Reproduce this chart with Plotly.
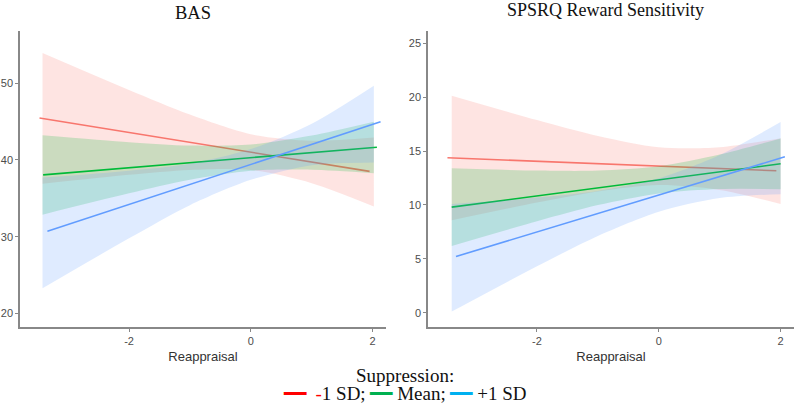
import plotly.graph_objects as go

# ---------------- data ----------------
GROUPS = ["-1 SD", "Mean", "+1 SD"]
LINE_COLORS = ["#F8766D", "#00BA38", "#619CFF"]
FILL_COLORS = ["rgba(248,118,109,0.2)", "rgba(0,186,56,0.2)", "rgba(97,156,255,0.2)"]

# BAS panel
bas_line_x = [[-3.47, 1.95], [-3.41, 2.07], [-3.34, 2.13]]
bas_line_y = [[45.45, 38.5], [38.05, 41.65], [30.7, 44.95]]
bas_band_x = [-3.42, -2, -1, 0, 1, 2.02]
bas_upper = [
    [53.90, 49.09, 45.89, 43.33, 42.49, 42.92],
    [43.21, 42.30, 41.86, 42.00, 43.17, 44.96],
    [37.69, 38.59, 39.50, 41.40, 44.71, 49.66],
]
bas_lower = [
    [36.88, 38.05, 38.69, 38.69, 36.97, 33.94],
    [32.87, 35.64, 37.40, 38.58, 38.71, 38.26],
    [23.29, 29.79, 34.10, 37.40, 39.31, 39.66],
]

# SPSRQ panel
sps_line_x = [[-3.47, 1.93], [-3.40, 2.0], [-3.33, 2.07]]
sps_line_y = [[14.38, 13.17], [9.80, 13.82], [5.22, 14.47]]
sps_band_x = [-3.40, -2, -1, 0, 1, 2.0]
sps_upper = [
    [20.14, 17.88, 16.40, 15.35, 15.36, 16.20],
    [13.40, 13.19, 13.19, 13.59, 14.68, 16.17],
    [10.09, 10.69, 11.30, 12.47, 14.64, 17.70],
]
sps_lower = [
    [8.58, 10.22, 11.26, 11.85, 11.40, 10.10],
    [6.20, 8.49, 9.99, 11.07, 11.48, 11.47],
    [0.11, 4.31, 7.12, 9.37, 10.64, 11.00],
]

X_TICKS = [-2, 0, 2]
X_TICK_LABELS = ["-2", "0", "2"]
BAS_Y_TICKS = [20, 30, 40, 50]
SPS_Y_TICKS = [0, 5, 10, 15, 20, 25]

fig = go.Figure()

def add_panel(xa, ya, band_x, uppers, lowers, line_x, line_y):
    for i in range(3):
        fig.add_trace(go.Scatter(x=band_x, y=lowers[i], mode="lines",
                                 line=dict(width=0, shape="spline", smoothing=0.8),
                                 xaxis=xa, yaxis=ya, showlegend=False, hoverinfo="skip"))
        fig.add_trace(go.Scatter(x=band_x, y=uppers[i], mode="lines", fill="tonexty",
                                 fillcolor=FILL_COLORS[i],
                                 line=dict(width=0, shape="spline", smoothing=0.8),
                                 xaxis=xa, yaxis=ya, showlegend=False, hoverinfo="skip"))
        fig.add_trace(go.Scatter(x=line_x[i], y=line_y[i], mode="lines",
                                 line=dict(color=LINE_COLORS[i], width=1.6),
                                 xaxis=xa, yaxis=ya, showlegend=False, name=GROUPS[i]))

add_panel("x", "y", bas_band_x, bas_upper, bas_lower, bas_line_x, bas_line_y)
add_panel("x2", "y2", sps_band_x, sps_upper, sps_lower, sps_line_x, sps_line_y)

tick_font = dict(family="Liberation Sans, Arial", size=11, color="#4D4D4D")
axis_common = dict(showgrid=False, zeroline=False, showline=True, linecolor="#888888", linewidth=1.5,
                   ticks="outside", ticklen=3, tickcolor="#888888", tickwidth=1, tickfont=tick_font,
                   automargin=False)

xtitle = dict(text="Reappraisal", font=dict(family="Liberation Sans, Arial", size=13, color="#333333"), standoff=6)

fig.update_layout(
    width=800, height=409,
    margin=dict(l=20, r=6, t=31, b=82, autoexpand=False),
    paper_bgcolor="white", plot_bgcolor="white",
    showlegend=False,
    xaxis=dict(domain=[0, 0.4729], range=[-3.79, 2.22], tickvals=X_TICKS, ticktext=X_TICK_LABELS,
               anchor="y", title=xtitle, **axis_common),
    yaxis=dict(domain=[0, 1], range=[18.25, 56.77], tickvals=BAS_Y_TICKS, anchor="x", **axis_common),
    xaxis2=dict(domain=[0.5271, 1], range=[-3.79, 2.22], tickvals=X_TICKS, ticktext=X_TICK_LABELS,
                anchor="y2", title=xtitle, **axis_common),
    yaxis2=dict(domain=[0, 1], range=[-1.32, 26.14], tickvals=SPS_Y_TICKS, anchor="x2", **axis_common),
)

serif = "Liberation Serif, Times New Roman, serif"
fig.add_annotation(text="BAS", x=0.2235, y=1.06, xref="paper", yref="paper", xanchor="center", yanchor="middle",
                   showarrow=False, font=dict(family=serif, size=18.5, color="#111111"))
fig.add_annotation(text="SPSRQ Reward Sensitivity", x=0.756, y=1.072, xref="paper", yref="paper",
                   xanchor="center", yanchor="middle", showarrow=False, font=dict(family=serif, size=18, color="#111111"))

fig.add_annotation(text="Suppression:", x=0.498, y=-0.163, xref="paper", yref="paper", xanchor="center",
                   yanchor="middle", showarrow=False, font=dict(family=serif, size=19, color="#111111"))
legend_text = ('<span style="color:#FF0000">━━</span>  <span style="color:#FF0000">-</span>1 SD; '
               '<span style="color:#00B050">━━</span> Mean; '
               '<span style="color:#00B0F0">━━</span> +1 SD')
fig.add_annotation(text=legend_text, x=0.497, y=-0.224, xref="paper", yref="paper", xanchor="center",
                   yanchor="middle", showarrow=False, font=dict(family=serif, size=19, color="#111111"))

fig.write_html("out.html", config={"displayModeBar": False},
               post_script="document.body.style.margin='0';")
